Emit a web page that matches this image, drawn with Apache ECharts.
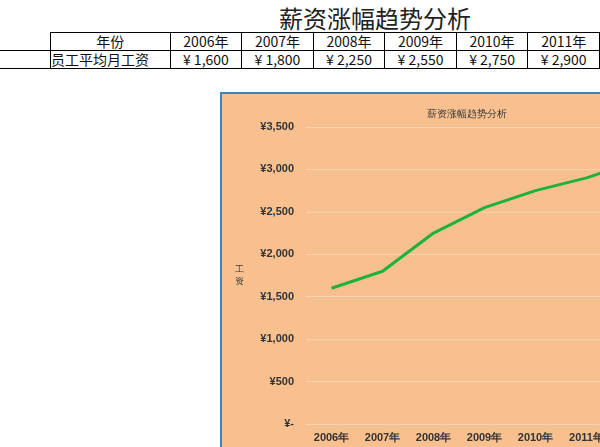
<!DOCTYPE html>
<html><head><meta charset="utf-8">
<script src="https://cdn.jsdelivr.net/npm/echarts@6/dist/echarts.min.js"></script>
<style>
html,body{margin:0;width:600px;height:447px;overflow:hidden}
body{background:#fff;position:relative;font-family:"Noto Sans CJK SC",sans-serif}
#title{position:absolute;left:255px;top:0;width:240px;text-align:center;font-size:24px;color:#222}
table{position:absolute;left:50px;top:32px;border-collapse:collapse;font-family:"Noto Sans CJK SC";font-size:14px;color:#111}
td{border:1px solid #000;height:17px;padding:0;text-align:center;line-height:17px;white-space:nowrap;overflow:hidden}
.hl{position:absolute;left:0;width:50px;height:1px;background:#000}
#wrap{position:absolute;left:220px;top:92px;width:380px;height:355px;overflow:hidden;border-left:2px solid #3f84b8;border-top:2px solid #3f84b8;box-sizing:border-box}
#c{position:absolute;left:0;top:0;width:460px;height:355px;background:#f8c08f}
</style></head><body>
<div id="title"></div>
<table id="t"></table>
<div class="hl" style="top:50px"></div><div class="hl" style="top:68px"></div>
<div id="wrap"><div id="c"></div></div>
<script>
const pageTitle='薪资涨幅趋势分析';
const rowHeader=['年份','员工平均月工资'];
const years=['2006年','2007年','2008年','2009年','2010年','2011年','2012年'];
const salaries=[1600,1800,2250,2550,2750,2900,3100];
const tableCount=6;
document.getElementById('title').textContent=pageTitle;
const t=document.getElementById('t');
let h='<tr><td style="width:119px">'+rowHeader[0]+'</td>'+years.slice(0,tableCount).map(y=>'<td style="width:71px">'+y+'</td>').join('')+'</tr>';
h+='<tr><td style="max-width:119px;text-align:left">'+rowHeader[1]+'</td>'+salaries.slice(0,tableCount).map(v=>'<td>¥ '+v.toLocaleString('en-US')+'</td>').join('')+'</tr>';
t.innerHTML=h;
const ch=echarts.init(document.getElementById('c'));
ch.setOption({
 title:{text:pageTitle,left:200,top:10,textStyle:{fontSize:10,color:'#333',fontWeight:'normal'}},
 grid:{left:84,right:19,top:33,bottom:25},
 xAxis:{type:'category',data:years,axisLine:{show:false},axisTick:{show:false},
   axisLabel:{interval:0,color:'#333',fontWeight:'bold',fontSize:11,margin:8}},
 yAxis:{type:'value',min:0,max:3500,interval:500,name:'工\n资',nameLocation:'middle',nameGap:62,nameRotate:0,
   nameTextStyle:{color:'#333',fontSize:9,lineHeight:12},
   axisLabel:{color:'#333',fontWeight:'bold',fontSize:11,margin:12,formatter:v=>v===0?'¥-':'¥'+v.toLocaleString('en-US')},
   splitLine:{lineStyle:{color:'#f6d3b3',width:1}}},
 series:[{type:'line',data:salaries,symbol:'none',lineStyle:{color:'#1eb23c',width:3},itemStyle:{color:'#1eb23c'}}]
});
</script></body></html>
